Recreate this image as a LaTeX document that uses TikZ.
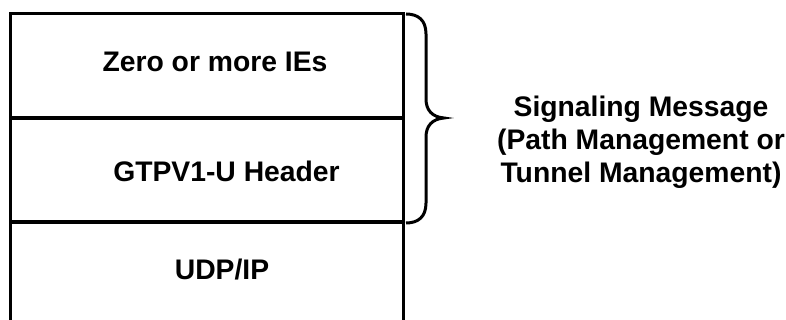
\documentclass[tikz,border=0pt]{standalone}
\usepackage{fontspec}
\setmainfont{Liberation Sans}
\begin{document}
\begin{tikzpicture}[x=1pt,y=-1pt,
  frame/.style={line width=3.2pt,black},
  brace/.style={line width=3pt,black,line cap=butt},
  lbl/.style={font=\bfseries\fontsize{28.3}{33}\selectfont,inner sep=0pt,anchor=base}]
\useasboundingbox (0,0) rectangle (786,320);
% stack frame
\draw[frame] (10.5,321) -- (10.5,13.5) -- (403.5,13.5) -- (403.5,321);
\coordinate (d1l) at (10.5,118); \coordinate (d1r) at (403.5,118);
\coordinate (d2l) at (10.5,222); \coordinate (d2r) at (403.5,222);
\draw[frame] (d1l) -- (d1r);
\draw[frame] (d2l) -- (d2r);
% labels
\node[lbl] (ies) at (215,72) {Zero or more IEs};
\node[lbl] (hdr) at (226.5,182) {GTPV1-U Header};
\node[lbl] (udp) at (222,279) {UDP/IP};
% brace
\coordinate (bt) at (406,14);
\coordinate (tip) at (444,118);
\coordinate (bb) at (406,223);
\draw[brace] (bt) .. controls (418,14) and (426,20) .. (426,34)
  -- (426,99) .. controls (426,110) and (432,117) .. (tip)
  .. controls (432,119) and (426,126) .. (426,137)
  -- (426,203) .. controls (426,217) and (418,223) .. (bb);
\node[lbl,align=center] (msg) at (641,183)
  {Signaling Message\\(Path Management or\\ Tunnel Management)};
\end{tikzpicture}
\end{document}
